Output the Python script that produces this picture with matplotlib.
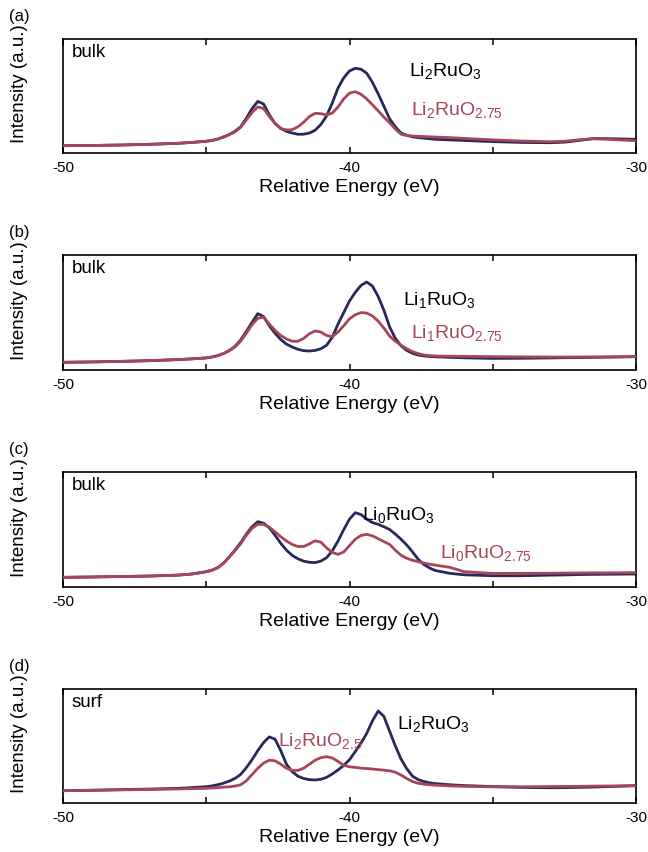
import matplotlib
matplotlib.use("Agg")
import matplotlib.pyplot as plt

plt.rcParams["font.family"] = ["Liberation Sans", "DejaVu Sans"]
plt.rcParams["mathtext.fontset"] = "custom"
plt.rcParams["mathtext.rm"] = "Liberation Sans"
plt.rcParams["mathtext.it"] = "Liberation Sans:italic"

# Relative energy sampling (eV)
energy = [-50.0, -49.0, -48.0, -47.0, -46.0, -45.5,
          -45.0, -44.8, -44.6, -44.4, -44.2, -44.0, -43.8, -43.6, -43.4, -43.2,
          -43.0, -42.8, -42.6, -42.4, -42.2, -42.0, -41.8, -41.6, -41.4, -41.2,
          -41.0, -40.8, -40.6, -40.4, -40.2, -40.0, -39.8, -39.6, -39.4, -39.2,
          -39.0, -38.8, -38.6, -38.4, -38.2, -38.0, -37.8, -37.6, -37.4, -37.2,
          -37.0,
          -36.5, -36.0, -35.0, -34.0, -33.0, -32.5, -32.0, -31.5, -31.0, -30.5, -30.0]

# (a) bulk
a_li2ruo3 = [6.4, 6.6, 7.0, 7.6, 8.5, 9.3,
             10.3, 11.0, 12.2, 14.0, 16.2, 19.0, 23.0, 30.5, 39.0, 45.3,
             43.0, 33.5, 26.0, 21.5, 19.0, 17.5, 16.4, 16.5, 17.5, 20.0,
             25.0, 32.5, 44.0, 57.0, 66.0, 72.0, 74.3, 73.5, 70.0, 62.0,
             52.0, 41.0, 30.0, 23.0, 17.5, 15.5, 14.2, 13.5, 13.0, 12.5,
             12.0,
             11.5, 11.0, 10.0, 9.3, 9.0, 9.5, 11.0, 12.6, 12.6, 12.3, 12.0]
a_li2ruo275 = [6.4, 6.6, 7.0, 7.6, 8.5, 9.3,
               10.3, 11.0, 12.2, 14.0, 16.0, 18.5, 22.5, 29.0, 35.5, 40.5,
               39.0, 32.0, 26.0, 21.5, 20.2, 20.5, 23.0, 27.0, 32.0, 34.8,
               34.5, 33.3, 35.0, 40.5, 47.5, 52.5, 53.8, 51.5, 47.5, 42.3,
               37.0, 31.5, 26.5, 21.0, 16.5, 15.3, 14.9, 14.6, 14.4, 14.2,
               14.0,
               13.5, 12.8, 11.5, 10.5, 9.9, 10.3, 11.6, 12.5, 12.0, 11.4, 10.8]

# (b) bulk
b_li1ruo3 = [6.7, 7.0, 7.5, 8.1, 9.0, 9.7,
             10.5, 11.3, 12.5, 14.3, 16.8, 20.5, 26.0, 33.5, 41.5, 49.0,
             46.5, 38.5, 32.0, 26.5, 22.5, 20.0, 18.0, 16.8, 16.5, 17.0,
             18.5, 21.5, 28.5, 40.0, 50.0, 60.0, 67.5, 73.5, 76.5, 73.0,
             64.0, 52.0, 37.5, 27.5, 21.0, 17.0, 14.5, 13.0, 12.2, 11.8,
             11.5,
             11.0, 10.6, 10.1, 10.2, 10.5, 10.7, 10.8, 11.0, 11.2, 11.4, 11.6]
b_li1ruo275 = [6.7, 7.0, 7.5, 8.1, 9.0, 9.7,
               10.5, 11.3, 12.5, 14.3, 16.8, 20.0, 25.0, 32.0, 39.5, 45.0,
               46.0, 40.0, 34.5, 30.0, 27.0, 25.0, 25.0, 27.5, 31.5, 34.0,
               33.0, 30.0, 29.0, 33.0, 38.5, 44.5, 48.0, 49.9, 49.5, 47.0,
               42.5, 36.5, 29.5, 25.0, 21.5, 18.5, 16.0, 14.2, 13.0, 12.5,
               12.2,
               12.0, 11.8, 11.6, 11.4, 11.3, 11.3, 11.3, 11.4, 11.4, 11.5, 11.6]

# (c) bulk
c_li0ruo3 = [8.4, 8.7, 9.1, 9.5, 10.3, 11.3,
             13.3, 14.6, 16.8, 20.6, 26.0, 32.0, 38.5, 46.0, 52.5, 56.8,
             55.5, 51.5, 45.0, 38.0, 32.0, 27.5, 24.5, 22.5, 21.5, 21.2,
             22.5, 25.5, 31.5, 40.0, 50.0, 59.0, 64.6, 63.0, 59.0, 56.0,
             54.5, 52.4, 50.0, 46.0, 41.5, 36.5, 30.5, 24.0, 19.5, 16.5,
             14.3,
             11.9, 10.6, 9.8, 9.8, 10.3, 10.5, 10.8, 11.0, 11.1, 11.2, 11.3]
c_li0ruo275 = [8.4, 8.7, 9.1, 9.5, 10.3, 11.3,
               13.3, 14.6, 16.8, 20.6, 26.0, 31.5, 37.5, 45.0, 51.0, 54.5,
               54.5, 52.0, 48.0, 43.7, 40.0, 37.0, 35.2, 35.2, 37.5, 40.2,
               39.0, 34.0, 30.0, 28.4, 30.5, 36.0, 41.5, 44.8, 45.8, 44.5,
               42.0, 39.5, 37.0, 32.0, 27.5, 25.0, 23.2, 22.0, 20.8, 19.8,
               19.0,
               17.1, 13.3, 11.8, 11.9, 12.0, 12.1, 12.2, 12.3, 12.3, 12.4, 12.5]

# (d) surface
d_li2ruo3 = [10.8, 11.2, 11.7, 12.2, 12.8, 13.5,
             14.3, 15.0, 16.0, 17.4, 19.2, 21.5, 25.0, 31.0, 38.0, 46.0,
             53.0, 58.0, 56.0, 46.0, 34.0, 27.5, 23.5, 21.5, 20.5, 20.2,
             20.8, 22.5, 25.5, 29.0, 33.0, 38.0, 45.0, 52.5, 61.0, 72.0,
             80.7, 76.0, 63.0, 50.0, 38.5, 30.0, 23.5, 20.5, 18.8, 17.7,
             17.0,
             16.0, 15.3, 14.4, 13.7, 13.4, 13.5, 13.7, 14.0, 14.4, 14.8, 15.2]
d_li2ruo25 = [10.8, 11.1, 11.5, 11.9, 12.3, 12.6,
              12.9, 13.2, 13.5, 13.9, 14.2, 14.8, 16.0, 19.5, 25.0, 30.5,
              35.0, 37.5, 37.0, 34.0, 30.5, 28.5, 28.6, 30.5, 34.0, 37.5,
              39.8, 40.6, 39.5, 36.5, 33.0, 31.8, 31.2, 30.6, 30.2, 29.8,
              29.3, 28.8, 28.2, 27.0, 24.5, 21.5, 18.8, 17.3, 16.5, 16.0,
              15.6,
              15.0, 14.6, 14.2, 14.2, 14.4, 14.5, 14.6, 14.8, 14.9, 15.0, 15.2]

panel_tags = ["(a)", "(b)", "(c)", "(d)"]
region_tags = ["bulk", "bulk", "bulk", "surf"]
dark_series = [a_li2ruo3, b_li1ruo3, c_li0ruo3, d_li2ruo3]
red_series = [a_li2ruo275, b_li1ruo275, c_li0ruo275, d_li2ruo25]
dark_names = [r"Li$_{\mathrm{2}}$RuO$_{\mathrm{3}}$",
              r"Li$_{\mathrm{1}}$RuO$_{\mathrm{3}}$",
              r"Li$_{\mathrm{0}}$RuO$_{\mathrm{3}}$",
              r"Li$_{\mathrm{2}}$RuO$_{\mathrm{3}}$"]
red_names = [r"Li$_{\mathrm{2}}$RuO$_{\mathrm{2.75}}$",
             r"Li$_{\mathrm{1}}$RuO$_{\mathrm{2.75}}$",
             r"Li$_{\mathrm{0}}$RuO$_{\mathrm{2.75}}$",
             r"Li$_{\mathrm{2}}$RuO$_{\mathrm{2.5}}$"]
# label anchor points (energy, intensity) for each panel
dark_label_at = [(-37.92, 67.5), (-38.13, 56.5), (-39.58, 58.3), (-38.35, 64.6)]
red_label_at = [(-37.85, 33.3), (-37.85, 27.8), (-36.84, 25.0), (-42.51, 50.0)]

tick_positions = [-50, -45, -40, -35, -30]
tick_labels = ["-50", "", "-40", "", "-30"]

DARK = "#28285a"
RED = "#a64658"

W, H = 648, 852
fig = plt.figure(figsize=(W / 100, H / 100), dpi=100)
box_left, box_right = 63, 636
tops = [39, 255, 472, 689]
bottoms = [153, 370, 587, 803]

for i in range(4):
    t, b = tops[i], bottoms[i]
    ax = fig.add_axes([box_left / W, 1 - b / H, (box_right - box_left) / W, (b - t) / H])
    ax.plot(energy, dark_series[i], color=DARK, lw=2.0, zorder=2,
            solid_joinstyle="round")
    ax.plot(energy, red_series[i], color=RED, lw=2.0, zorder=3,
            solid_joinstyle="round")
    ax.set_xlim(-50, -30)
    ax.set_ylim(0, 100)
    ax.set_yticks([])
    ax.set_xticks(tick_positions)
    ax.set_xticklabels(tick_labels, fontsize=11)
    ax.tick_params(axis="x", direction="in", top=True, length=4, width=1.1, pad=6)
    for s in ax.spines.values():
        s.set_linewidth(1.2)
    ax.set_xlabel("Relative Energy (eV)", fontsize=14, va="top")
    ax.xaxis.set_label_coords(0.5, -26 / (b - t))
    ax.text(0.015, 0.84, region_tags[i], transform=ax.transAxes, fontsize=13.5,
            va="baseline", ha="left")
    ax.text(*dark_label_at[i], dark_names[i], color="black", fontsize=14,
            va="baseline", ha="left")
    ax.text(*red_label_at[i], red_names[i], color=RED, fontsize=14,
            va="baseline", ha="left")
    fig.text(20 / W, 1 - (b - 10) / H, "Intensity (a.u.)", rotation=90,
             fontsize=13.5, ha="center", va="bottom")
    fig.text(19 / W, 1 - (t - 22) / H, panel_tags[i], fontsize=12,
             ha="center", va="center")

fig.savefig("out.png", dpi=100)
